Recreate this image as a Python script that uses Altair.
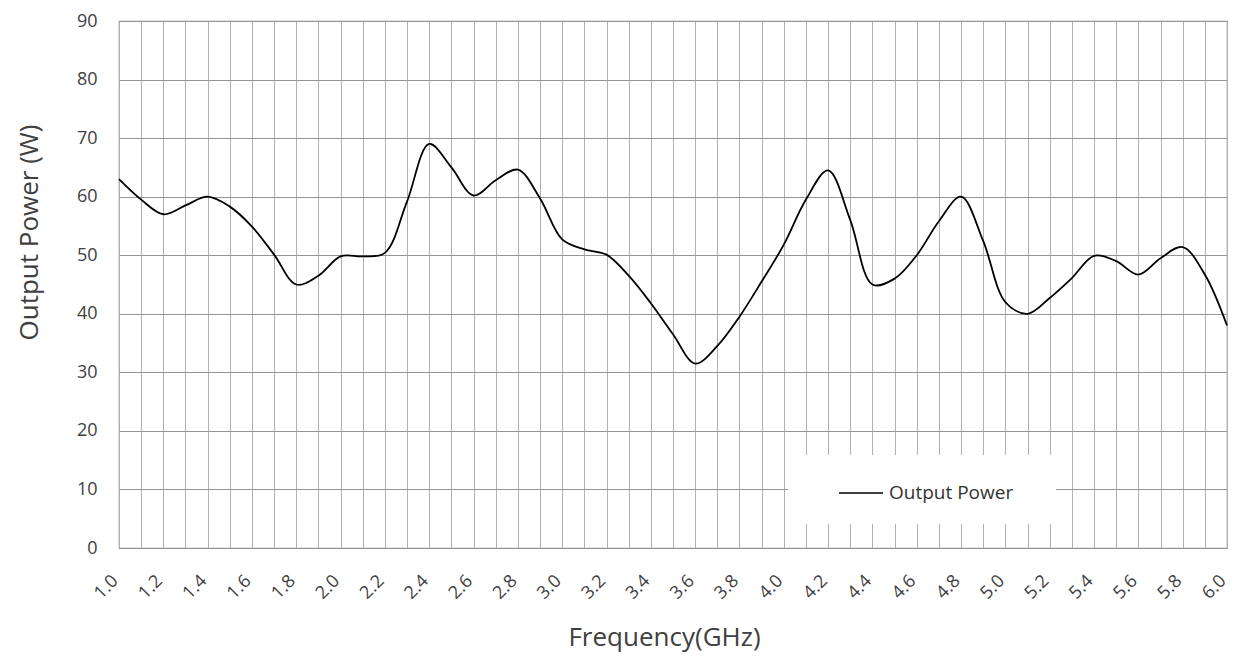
import json
import altair as alt
import pandas as pd

# ---- data ----
freq_ghz = [1.0, 1.1, 1.2, 1.3, 1.4, 1.5, 1.6, 1.7, 1.8, 1.9,
            2.0, 2.1, 2.2, 2.3, 2.4, 2.5, 2.6, 2.7, 2.8, 2.9,
            3.0, 3.1, 3.2, 3.3, 3.4, 3.5, 3.6, 3.7, 3.8, 3.9,
            4.0, 4.1, 4.2, 4.3, 4.4, 4.5, 4.6, 4.7, 4.8, 4.9,
            5.0, 5.1, 5.2, 5.3, 5.4, 5.5, 5.6, 5.7, 5.8, 5.9,
            6.0]
output_power_w = [63.0, 59.5, 57.0, 58.5, 60.0, 58.3, 54.9, 50.1, 45.0, 46.5,
                  49.8, 49.8, 50.4, 59.2, 69.0, 65.0, 60.2, 62.8, 64.6, 59.7,
                  52.7, 51.0, 50.1, 46.5, 41.8, 36.5, 31.5, 34.5, 39.5, 45.5,
                  51.8, 59.5, 64.5, 56.0, 45.0, 46.0, 50.0, 55.8, 60.0, 52.4,
                  42.0, 40.0, 42.7, 46.1, 49.9, 49.0, 46.7, 49.5, 51.4, 46.7,
                  38.0]
x_tick_labels = ["1.0", "1.2", "1.4", "1.6", "1.8", "2.0", "2.2", "2.4", "2.6",
                 "2.8", "3.0", "3.2", "3.4", "3.6", "3.8", "4.0", "4.2", "4.4",
                 "4.6", "4.8", "5.0", "5.2", "5.4", "5.6", "5.8", "6.0"]
y_ticks = [0, 10, 20, 30, 40, 50, 60, 70, 80, 90]
series_name = "Output Power"

df = pd.DataFrame({"freq": freq_ghz, "power": output_power_w, "series": series_name})

label_expr = ("indexof(" + json.dumps(x_tick_labels) +
              ", format(datum.value, '.1f')) >= 0 ? format(datum.value, '.1f') : ''")

FONT = "Open Sans"
TXT = "#404040"

chart = alt.Chart(df).mark_line(
    interpolate="catmull-rom", strokeWidth=1.8, color="#000000"
).encode(
    x=alt.X(
        "freq:Q",
        scale=alt.Scale(domain=[1.0, 6.0], nice=False, zero=False),
        axis=alt.Axis(
            values=freq_ghz, labelExpr=label_expr, labelAngle=315,
            labelAlign="right", labelBaseline="middle", labelPadding=30,
            labelOffset=-4,
            ticks=False, tickSize=0, domain=False, grid=True,
            gridColor="#b0b0b0", gridWidth=1, labelFont=FONT, labelFontSize=18,
            labelColor=TXT, labelOverlap=False, labelFlush=False,
            title="Frequency(GHz)", titleFont=FONT, titleFontSize=26,
            titleFontWeight="normal", titleColor=TXT, titleX=545, titleY=97,
            titleBaseline="alphabetic", titleAlign="center",
        ),
    ),
    y=alt.Y(
        "power:Q",
        scale=alt.Scale(domain=[0, 90], nice=False),
        axis=alt.Axis(
            values=y_ticks, labelPadding=22, ticks=False, tickSize=0,
            domain=False, grid=True, gridColor="#959595", gridWidth=1.2,
            labelFont=FONT, labelFontSize=18, labelColor=TXT, labelFlush=False,
            title="Output Power (W)", titleFont=FONT, titleFontSize=26,
            titleFontWeight="normal", titleColor=TXT, titleAngle=270,
            titleX=-82, titleY=211, titleBaseline="alphabetic",
            titleAlign="center",
        ),
    ),
    color=alt.Color(
        "series:N",
        scale=alt.Scale(range=["#000000"]),
        legend=alt.Legend(
            title="\u00a0", titleOrient="right", titlePadding=28,
            titleFontSize=44,
            orient="none", legendX=669, legendY=434,
            fillColor="white", padding=15, symbolType="stroke",
            symbolSize=1936, symbolStrokeWidth=1.5, symbolOffset=35,
            labelFont=FONT, labelFontSize=19, labelColor="#333333",
            labelOffset=5, labelLimit=0,
        ),
    ),
).properties(
    width=1108,
    height=527,
    autosize=alt.AutoSizeParams(type="none"),
    padding={"left": 111, "top": 13, "right": 4, "bottom": 104},
).configure_view(
    stroke="#8c8c8c", strokeWidth=1.2
)

chart.save("out.html", embed_options={"renderer": "svg", "actions": False})
